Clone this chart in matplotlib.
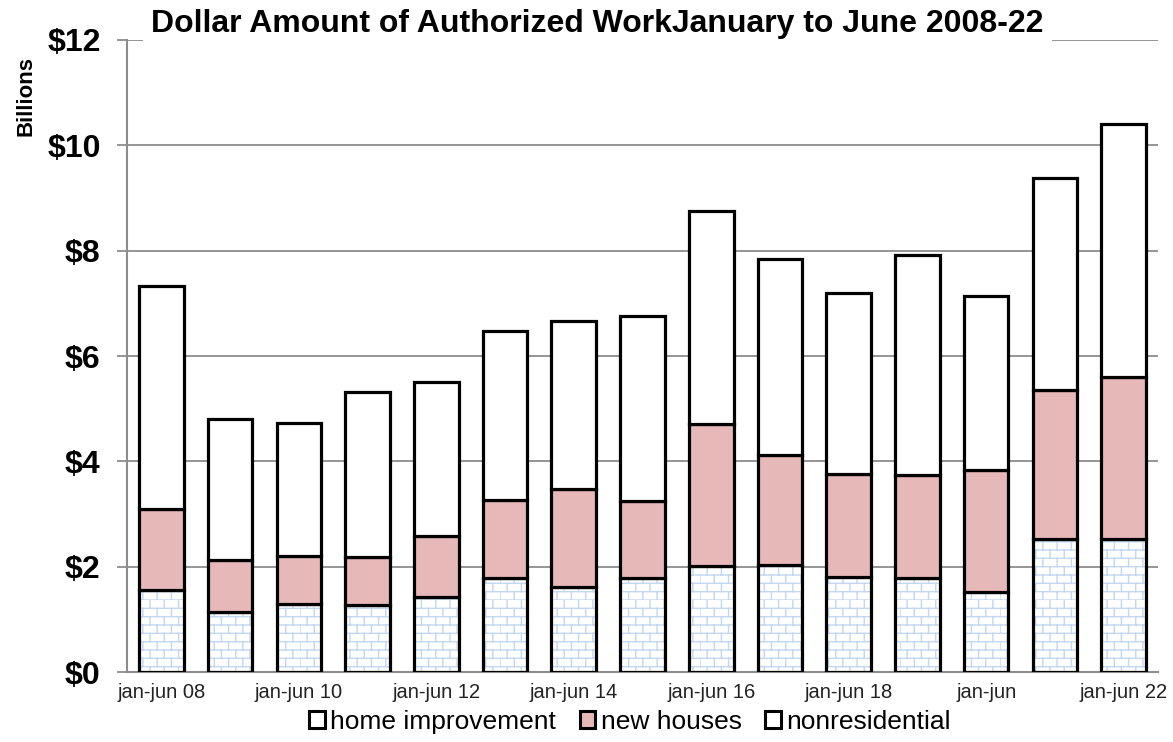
import numpy as np
import matplotlib
matplotlib.use('Agg')
import matplotlib.pyplot as plt
import matplotlib.hatch as mhatch
from matplotlib.path import Path
from matplotlib.patches import Patch

plt.rcParams['font.family'] = ['Liberation Sans', 'DejaVu Sans']

# ----- data (billions of dollars) -----
periods = ['jan-jun 08', 'jan-jun 09', 'jan-jun 10', 'jan-jun 11', 'jan-jun 12',
           'jan-jun 13', 'jan-jun 14', 'jan-jun 15', 'jan-jun 16', 'jan-jun 17',
           'jan-jun 18', 'jan-jun 19', 'jan-jun 20', 'jan-jun 21', 'jan-jun 22']
tick_labels = ['jan-jun 08', '', 'jan-jun 10', '', 'jan-jun 12', '', 'jan-jun 14', '',
               'jan-jun 16', '', 'jan-jun 18', '', 'jan-jun', '', 'jan-jun 22']
home_improvement = [1.56, 1.14, 1.29, 1.27, 1.42, 1.78, 1.61, 1.78, 2.01, 2.03,
                    1.80, 1.78, 1.52, 2.53, 2.53]
new_houses = [1.53, 0.99, 0.91, 0.91, 1.16, 1.49, 1.86, 1.47, 2.70, 2.09,
              1.96, 1.96, 2.32, 2.82, 3.07]
nonresidential = [4.24, 2.67, 2.53, 3.14, 2.93, 3.20, 3.19, 3.51, 4.04, 3.72,
                  3.44, 4.18, 3.30, 4.03, 4.80]


# brick-like hatch for the home improvement segments
class BrickHatch(mhatch.HatchPatternBase):
    def __init__(self, hatch, density):
        self.rows = 12
        self.cols = 7
        on = '+' in hatch
        self.num_vertices = (self.rows * 2 + self.rows * self.cols * 2) if on else 0

    def set_vertices_and_codes(self, vertices, codes):
        k = 0
        for i in range(self.rows):
            y0 = i / self.rows
            y1 = (i + 1) / self.rows
            vertices[k] = (0, y0)
            vertices[k + 1] = (1, y0)
            codes[k] = Path.MOVETO
            codes[k + 1] = Path.LINETO
            k += 2
            for j in range(self.cols):
                x = (j + 0.5 * (i % 2)) / self.cols
                vertices[k] = (x, y0)
                vertices[k + 1] = (x, y1)
                codes[k] = Path.MOVETO
                codes[k + 1] = Path.LINETO
                k += 2


mhatch._hatch_types = [BrickHatch]
plt.rcParams['hatch.linewidth'] = 1.0

x = np.arange(len(periods))
hi = np.array(home_improvement)
nh = np.array(new_houses)
nr = np.array(nonresidential)

fig = plt.figure(figsize=(11.73, 7.42), dpi=100)
ax = fig.add_axes([0.1083, 0.0943, 0.8789, 0.8518])

w = 0.65
edge = 2.3
ax.bar(x, hi, w, color='white', edgecolor='#c2d7f0', hatch='+', linewidth=0, zorder=2)
ax.bar(x, hi, w, fill=False, edgecolor='black', linewidth=edge, zorder=3)
ax.bar(x, nh, w, bottom=hi, color='#e6b9b8', edgecolor='black', linewidth=edge, zorder=3)
ax.bar(x, nr, w, bottom=hi + nh, color='white', edgecolor='black', linewidth=edge, zorder=3)

ax.set_xlim(-0.5, len(periods) - 0.5)
ax.set_ylim(0, 12)
ax.set_yticks(np.arange(0, 13, 2))
ax.set_yticklabels(['$%d' % v for v in range(0, 13, 2)], fontsize=23, fontweight='bold')
ax.set_xticks(x)
ax.set_xticklabels(tick_labels, fontsize=14.5, color='#222222')
ax.tick_params(axis='x', length=0, pad=8)
ax.tick_params(axis='y', length=7, color='#8c8c8c', width=1.3, pad=12)
ax.grid(axis='y', color='#8c8c8c', linewidth=1.3, zorder=0)
ax.set_axisbelow(True)
for s in ['top', 'right']:
    ax.spines[s].set_visible(False)
for s in ['left', 'bottom']:
    ax.spines[s].set_color('#8c8c8c')
    ax.spines[s].set_linewidth(1.5)

fig.text(0.509, 0.968, 'Dollar Amount of Authorized WorkJanuary to June 2008-22',
         ha='center', va='center', fontsize=23, fontweight='bold',
         bbox=dict(facecolor='white', edgecolor='none', pad=6))
fig.text(0.022, 0.87, 'Billions', rotation=90, ha='center', va='center',
         fontsize=16, fontweight='bold')

handles = [Patch(facecolor='white', edgecolor='black', linewidth=2.2),
           Patch(facecolor='#e6b9b8', edgecolor='black', linewidth=2.2),
           Patch(facecolor='white', edgecolor='black', linewidth=2.2)]
fig.legend(handles, ['home improvement', 'new houses', 'nonresidential'],
           loc='center', bbox_to_anchor=(0.537, 0.027), ncol=3, frameon=False,
           fontsize=19, handlelength=0.6, handleheight=0.6, handletextpad=0.2,
           columnspacing=0.9)

fig.savefig('out.png', dpi=100)
